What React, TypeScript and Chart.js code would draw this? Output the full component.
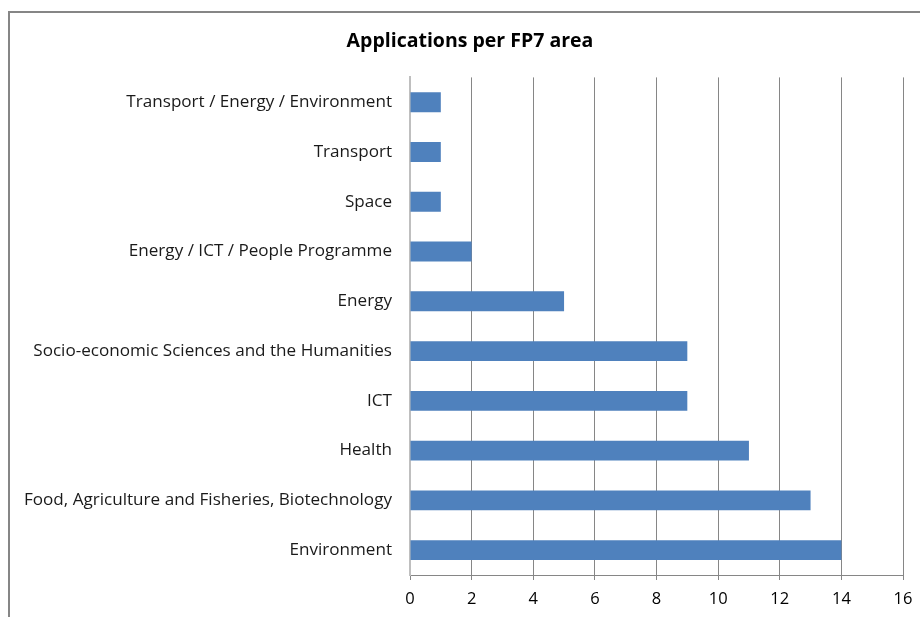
import React, { useEffect, useRef } from "react";
import { Chart, registerables } from "chart.js";

Chart.register(...registerables);

const categories = [
  "Transport / Energy / Environment",
  "Transport",
  "Space",
  "Energy / ICT / People Programme",
  "Energy",
  "Socio-economic Sciences and the Humanities",
  "ICT",
  "Health",
  "Food, Agriculture and Fisheries, Biotechnology",
  "Environment",
];
const applications = [1, 1, 1, 2, 5, 9, 9, 11, 13, 14];
const xMin = 0;
const xMax = 16;
const xStep = 2;
const titleText = "Applications per FP7 area";

const W = 920;
const H = 617;
const CANVAS_W = 940;

export default function App() {
  const ref = useRef<HTMLCanvasElement | null>(null);
  useEffect(() => {
    if (!ref.current) return;
    const font = "'Open Sans', Lato, sans-serif";
    const chart = new Chart(ref.current, {
      type: "bar",
      data: {
        labels: categories,
        datasets: [
          {
            data: applications,
            backgroundColor: "#4F81BD",
            borderWidth: 0,
            barPercentage: 0.4,
            categoryPercentage: 1,
            xAxisID: "x",
            yAxisID: "y",
          },
        ],
      },
      options: {
        indexAxis: "y",
        animation: false,
        responsive: false,
        maintainAspectRatio: false,
        layout: { padding: { left: 0, right: 0, top: 0, bottom: 0 } },
        plugins: {
          legend: { display: false },
          tooltip: { enabled: false },
          title: {
            display: true,
            text: titleText,
            color: "#000",
            font: { family: font, size: 19.5, weight: "bold" },
            padding: { top: 30, bottom: 24 },
          },
        },
        scales: {
          x: {
            type: "linear",
            position: "bottom",
            min: xMin,
            max: xMax,
            ticks: {
              stepSize: xStep,
              color: "#000",
              font: { family: font, size: 16.5 },
              padding: 9,
            },
            grid: {
              color: (ctx: any) => (ctx.index === 0 ? "#BFBFBF" : "#868686"),
              lineWidth: 1,
              drawTicks: true,
              tickLength: 5,
              tickColor: "#868686",
            },
            border: { display: true, color: "#868686", width: 1 },
            afterFit: (scale: any) => {
              scale.height = 42;
            },
          },
          y: {
            type: "category",
            position: "left",
            ticks: {
              color: "#1a1a1a",
              font: { family: font, size: 17.1 },
              padding: 18,
            },
            grid: { display: false, drawTicks: false },
            border: { display: true, color: "#BFBFBF", width: 2 },
            afterFit: (scale: any) => {
              scale.width = 410;
            },
          },
          spacer: {
            type: "linear",
            position: "right",
            display: true,
            ticks: { display: false },
            grid: { display: false, drawTicks: false },
            border: { display: false },
            afterFit: (scale: any) => {
              scale.width = CANVAS_W - 903;
            },
          },
        },
      },
    });
    return () => chart.destroy();
  }, []);

  return (
    <div
      style={{
        position: "fixed",
        left: 0,
        top: 0,
        width: W,
        height: H,
        overflow: "hidden",
        background: "#fff",
      }}
    >
      <div
        style={{
          position: "absolute",
          left: 8,
          top: 11,
          width: W,
          height: H,
          borderLeft: "2px solid #868686",
          borderTop: "2px solid #868686",
        }}
      />
      <canvas
        ref={ref}
        width={CANVAS_W}
        height={H}
        style={{ position: "absolute", left: 0, top: 0, width: CANVAS_W, height: H }}
      />
    </div>
  );
}
